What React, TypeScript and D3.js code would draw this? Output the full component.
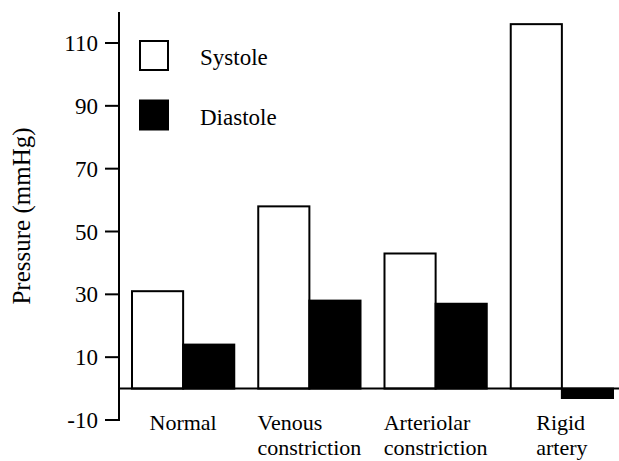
import React, { useEffect, useRef } from 'react';
import * as d3 from 'd3';

const categories = ['Normal', 'Venous constriction', 'Arteriolar constriction', 'Rigid artery'];
const categoryLines = [['Normal'], ['Venous', 'constriction'], ['Arteriolar', 'constriction'], ['Rigid', 'artery']];
const systole = [31, 58, 43, 116];
const diastole = [14, 28, 27, -3];
const yTicks = [-10, 10, 30, 50, 70, 90, 110];
const seriesNames = ['Systole', 'Diastole'];

const W = 619;
const H = 461;

const App: React.FC = () => {
  const svgRef = useRef<SVGSVGElement>(null);

  useEffect(() => {
    if (!svgRef.current) return;
    const svg = d3.select(svgRef.current);
    svg.selectAll('*').remove();

    const font = '"Liberation Serif", "Times New Roman", serif';
    const fs = '23px';
    const axisX = 119;

    const y = d3.scaleLinear().domain([-10, 110]).range([420, 43]);
    const x = d3.scaleBand<string>().domain(categories).range([132, 613]).paddingInner(0.19).paddingOuter(0);
    const inner = d3.scaleBand<string>().domain(seriesNames).range([0, x.bandwidth()]);

    const g = svg.append('g');

    // bars
    categories.forEach((c, i) => {
      const vals = [systole[i], diastole[i]];
      vals.forEach((v, j) => {
        const x0 = x(c)! + inner(seriesNames[j])!;
        const top = y(Math.max(v, 0));
        const bot = y(Math.min(v, 0));
        g.append('rect')
          .attr('x', x0)
          .attr('y', top)
          .attr('width', inner.bandwidth())
          .attr('height', bot - top)
          .style('fill', j === 0 ? '#fff' : '#000')
          .style('stroke', '#000')
          .style('stroke-width', 2);
      });
    });

    // zero line
    g.append('line')
      .attr('x1', axisX).attr('x2', W)
      .attr('y1', y(0)).attr('y2', y(0))
      .style('stroke', '#000').style('stroke-width', 2);

    // y axis
    g.append('line')
      .attr('x1', axisX).attr('x2', axisX)
      .attr('y1', 12).attr('y2', y(-10) + 1)
      .style('stroke', '#000').style('stroke-width', 2);

    yTicks.forEach(t => {
      g.append('line')
        .attr('x1', axisX - 14).attr('x2', axisX)
        .attr('y1', y(t)).attr('y2', y(t))
        .style('stroke', '#000').style('stroke-width', 2);
      g.append('text')
        .attr('x', axisX - 21)
        .attr('y', y(t))
        .attr('dy', '0.35em')
        .style('text-anchor', 'end')
        .style('font-family', font)
        .style('font-size', fs)
        .text(t);
    });

    // y label
    g.append('text')
      .attr('transform', `translate(30, 216) rotate(-90)`)
      .style('text-anchor', 'middle')
      .style('font-family', font)
      .style('font-size', '25px')
      .text('Pressure (mmHg)');

    // category labels: lines left-aligned, block centred on the group
    categories.forEach((c, i) => {
      const cx = x(c)! + x.bandwidth() / 2;
      const lines = categoryLines[i];
      const texts = lines.map((ln, k) =>
        g.append('text')
          .attr('y', 430 + k * 24.5)
          .style('font-family', font)
          .style('font-size', '22px')
          .text(ln)
      );
      const widths = texts.map(t => (t.node() as SVGTextElement).getComputedTextLength());
      const left = cx - d3.max(widths)! / 2;
      texts.forEach(t => t.attr('x', left));
    });

    // legend
    seriesNames.forEach((s, i) => {
      const ly = 41 + i * 59.5;
      g.append('rect')
        .attr('x', 140).attr('y', ly)
        .attr('width', 28).attr('height', 29)
        .style('fill', i === 0 ? '#fff' : '#000')
        .style('stroke', '#000')
        .style('stroke-width', 2);
      g.append('text')
        .attr('x', 200)
        .attr('y', ly + 24)
        .style('font-family', font)
        .style('font-size', fs)
        .text(s);
    });
  }, []);

  return (
    <svg
      ref={svgRef}
      width={W}
      height={H}
      style={{ position: 'absolute', left: 0, top: 0, background: '#fff' }}
    />
  );
};

export default App;
